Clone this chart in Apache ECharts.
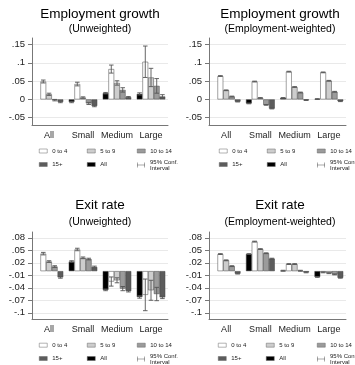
<!DOCTYPE html>
<html>
<head>
<meta charset="utf-8">
<script src="https://cdn.jsdelivr.net/npm/echarts@6/dist/echarts.min.js"></script>
<style>
  html, body { margin: 0; padding: 0; background: #fff; }
  #main { width: 355px; height: 365px; }
</style>
</head>
<body>
<div id="main"></div>
<script>
// categories and series (drawing order inside each group)
var sizeCats = ['All', 'Small', 'Medium', 'Large'];
var seriesNames = ['All', '0 to 4', '5 to 9', '10 to 14', '15+'];
var ciName = '95% Conf. Interval';

var topTicks = [-0.05, 0, 0.05, 0.1, 0.15];
var bottomTicks = [-0.1, -0.07, -0.04, -0.01, 0.02, 0.05, 0.08];

// Employment growth, unweighted
var gUnwAll = [null, -0.007, 0.017, 0.015];
var gUnw0to4 = [0.049, 0.042, 0.083, 0.103];
var gUnw5to9 = [0.014, 0.005, 0.045, 0.060];
var gUnw10to14 = [-0.002, -0.011, 0.026, 0.037];
var gUnw15plus = [-0.007, -0.018, 0.006, 0.008];
// half widths of the 95% intervals
var gUnwAllCi = [null, 0.002, 0.002, 0.003];
var gUnw0to4Ci = [0.004, 0.005, 0.011, 0.043];
var gUnw5to9Ci = [0.003, 0.002, 0.006, 0.025];
var gUnw10to14Ci = [0.002, 0.003, 0.006, 0.020];
var gUnw15plusCi = [0.002, 0.002, 0.002, 0.005];

// Employment growth, employment-weighted
var gWtAll = [null, -0.011, 0.004, 0.001];
var gWt0to4 = [0.064, 0.049, 0.076, 0.074];
var gWt5to9 = [0.025, 0.004, 0.034, 0.051];
var gWt10to14 = [0.008, -0.015, 0.019, 0.021];
var gWt15plus = [-0.006, -0.025, -0.002, -0.005];
var gWtAllCi = [null, 0.001, 0.001, 0.001];
var gWt0to4Ci = [0.001, 0.001, 0.001, 0.001];
var gWt5to9Ci = [0.001, 0.001, 0.001, 0.001];
var gWt10to14Ci = [0.001, 0.001, 0.001, 0.001];
var gWt15plusCi = [0.001, 0.001, 0.001, 0.001];

// Exit rate, unweighted
var eUnwAll = [null, 0.023, -0.045, -0.062];
var eUnw0to4 = [0.042, 0.052, -0.025, -0.057];
var eUnw5to9 = [0.023, 0.032, -0.022, -0.046];
var eUnw10to14 = [0.011, 0.029, -0.042, -0.055];
var eUnw15plus = [-0.015, 0.010, -0.048, -0.063];
var eUnwAllCi = [null, 0.002, 0.002, 0.003];
var eUnw0to4Ci = [0.003, 0.003, 0.011, 0.038];
var eUnw5to9Ci = [0.002, 0.002, 0.006, 0.024];
var eUnw10to14Ci = [0.002, 0.002, 0.005, 0.016];
var eUnw15plusCi = [0.002, 0.002, 0.002, 0.003];

// Exit rate, employment-weighted
var eWtAll = [null, 0.041, 0.001, -0.014];
var eWt0to4 = [0.041, 0.071, 0.017, -0.003];
var eWt5to9 = [0.026, 0.053, 0.017, -0.005];
var eWt10to14 = [0.012, 0.043, 0.001, -0.008];
var eWt15plus = [-0.006, 0.030, -0.003, -0.016];
var eWtAllCi = [null, 0.001, 0.001, 0.001];
var eWt0to4Ci = [0.001, 0.001, 0.001, 0.001];
var eWt5to9Ci = [0.001, 0.001, 0.001, 0.001];
var eWt10to14Ci = [0.001, 0.001, 0.001, 0.001];
var eWt15plusCi = [0.001, 0.001, 0.001, 0.001];

var barColors = ['#000000', '#ffffff', '#cdcdcd', '#9b9b9b', '#5c5c5c'];
var FONT = '"Liberation Sans", Arial, sans-serif';

var panels = [
  { title: 'Employment growth', sub: '(Unweighted)', cx: 100, ty: 14, sy: 29,
    left: 32, width: 136, top: 38, height: 87, min: -0.07, max: 0.168, ticks: topTicks,
    vals: [gUnwAll, gUnw0to4, gUnw5to9, gUnw10to14, gUnw15plus],
    ci: [gUnwAllCi, gUnw0to4Ci, gUnw5to9Ci, gUnw10to14Ci, gUnw15plusCi],
    legX: [39, 87, 137], legY: [151.5, 165] },
  { title: 'Employment growth', sub: '(Employment-weighted)', cx: 280, ty: 14, sy: 29,
    left: 209, width: 137, top: 38, height: 87, min: -0.07, max: 0.168, ticks: topTicks,
    vals: [gWtAll, gWt0to4, gWt5to9, gWt10to14, gWt15plus],
    ci: [gWtAllCi, gWt0to4Ci, gWt5to9Ci, gWt10to14Ci, gWt15plusCi],
    legX: [219, 267, 317], legY: [151.5, 165] },
  { title: 'Exit rate', sub: '(Unweighted)', cx: 100, ty: 205, sy: 222.5,
    left: 32, width: 136, top: 232, height: 87, min: -0.115, max: 0.094, ticks: bottomTicks,
    vals: [eUnwAll, eUnw0to4, eUnw5to9, eUnw10to14, eUnw15plus],
    ci: [eUnwAllCi, eUnw0to4Ci, eUnw5to9Ci, eUnw10to14Ci, eUnw15plusCi],
    legX: [39, 87, 137], legY: [345.7, 359] },
  { title: 'Exit rate', sub: '(Employment-weighted)', cx: 280, ty: 205, sy: 222.5,
    left: 209, width: 137, top: 232, height: 87, min: -0.115, max: 0.094, ticks: bottomTicks,
    vals: [eWtAll, eWt0to4, eWt5to9, eWt10to14, eWt15plus],
    ci: [eWtAllCi, eWt0to4Ci, eWt5to9Ci, eWt10to14Ci, eWt15plusCi],
    legX: [218, 266, 317], legY: [345.7, 359] }
];

function tickText(v) {
  if (v === 0) return '0';
  return String(v).replace('0.', '.');
}

function renderCi(params, api) {
  var c = api.value(0), k = api.value(1);
  var lo = api.coord([c, api.value(2)]);
  var hi = api.coord([c, api.value(3)]);
  var band = api.size([1, 0])[0];
  var bw = band * 0.84 / 5;
  var x = lo[0] + (k - 2) * bw;
  var cap = bw * 0.4;
  var st = { stroke: '#555', lineWidth: 0.9 };
  return {
    type: 'group',
    children: [
      { type: 'line', shape: { x1: x, y1: lo[1], x2: x, y2: hi[1] }, style: st },
      { type: 'line', shape: { x1: x - cap, y1: lo[1], x2: x + cap, y2: lo[1] }, style: st },
      { type: 'line', shape: { x1: x - cap, y1: hi[1], x2: x + cap, y2: hi[1] }, style: st }
    ]
  };
}

var grids = [], xAxes = [], yAxes = [], series = [], legends = [], texts = [];

panels.forEach(function (p, i) {
  grids.push({ left: p.left, width: p.width, top: p.top, height: p.height });
  xAxes.push({
    type: 'category', gridIndex: i, data: sizeCats,
    axisLine: { onZero: false, lineStyle: { color: '#777', width: 1 } },
    axisTick: { alignWithLabel: true, length: 4, lineStyle: { color: '#777' } },
    axisLabel: { interval: 0, fontSize: 9, color: '#222', margin: 6, fontFamily: FONT }
  });
  yAxes.push({
    type: 'value', gridIndex: i, min: p.min, max: p.max,
    axisLine: { show: true, lineStyle: { color: '#777', width: 1 } },
    axisTick: { show: true, length: 4, lineStyle: { color: '#777' }, customValues: p.ticks },
    axisLabel: { fontSize: 9.5, color: '#222', margin: 7, fontFamily: FONT,
      customValues: p.ticks, formatter: tickText },
    splitLine: { show: true, lineStyle: { color: '#e9e9e9', width: 1 } }
  });

  seriesNames.forEach(function (name, k) {
    series.push({
      name: name, type: 'bar', xAxisIndex: i, yAxisIndex: i,
      data: p.vals[k], barGap: '0%', barCategoryGap: '16%',
      itemStyle: { color: barColors[k], borderColor: '#444', borderWidth: 0.5 },
      emphasis: { disabled: true }, animation: false
    });
  });

  var ciData = [];
  p.ci.forEach(function (arr, k) {
    arr.forEach(function (h, c) {
      if (h == null || p.vals[k][c] == null) return;
      ciData.push([c, k, p.vals[k][c] - h, p.vals[k][c] + h]);
    });
  });
  series.push({
    name: ciName, type: 'custom', xAxisIndex: i, yAxisIndex: i,
    renderItem: renderCi, data: ciData, encode: { x: 0, y: [2, 3] },
    itemStyle: { color: '#555' }, z: 5, animation: false, silent: true
  });

  var legNames = ['0 to 4', '5 to 9', '10 to 14', '15+', 'All', ciName];
  legNames.forEach(function (name, j) {
    var col = j % 3, row = Math.floor(j / 3);
    var isCi = name === ciName;
    legends.push({
      data: [name], left: p.legX[col], top: p.legY[row] - (isCi ? 6 : 3.5),
      padding: 0, itemWidth: 8, itemHeight: isCi ? 5 : 4, selectedMode: false,
      icon: isCi ? 'path://M0,0h1v10h-1z M1,4.5h14v1h-14z M15,0h1v10h-1z' : 'rect',
      itemStyle: isCi ? {} : { borderColor: '#666', borderWidth: 0.5 },
      textStyle: { fontSize: 6, color: '#222', fontFamily: FONT, lineHeight: 6 },
      formatter: function (n) { return n === ciName ? '95% Conf.\nInterval' : n; }
    });
  });

  texts.push({ type: 'text', x: p.cx, y: p.ty, style: { text: p.title, fontSize: 13.5,
    fontFamily: FONT, fill: '#000', align: 'center', verticalAlign: 'middle' } });
  texts.push({ type: 'text', x: p.cx, y: p.sy, style: { text: p.sub, fontSize: 10.5,
    fontFamily: FONT, fill: '#000', align: 'center', verticalAlign: 'middle' } });
});

var myChart = echarts.init(document.getElementById('main'), null, { renderer: 'canvas' });
myChart.setOption({
  animation: false,
  backgroundColor: '#fff',
  grid: grids,
  xAxis: xAxes,
  yAxis: yAxes,
  legend: legends,
  graphic: texts,
  series: series
});
</script>
</body>
</html>
